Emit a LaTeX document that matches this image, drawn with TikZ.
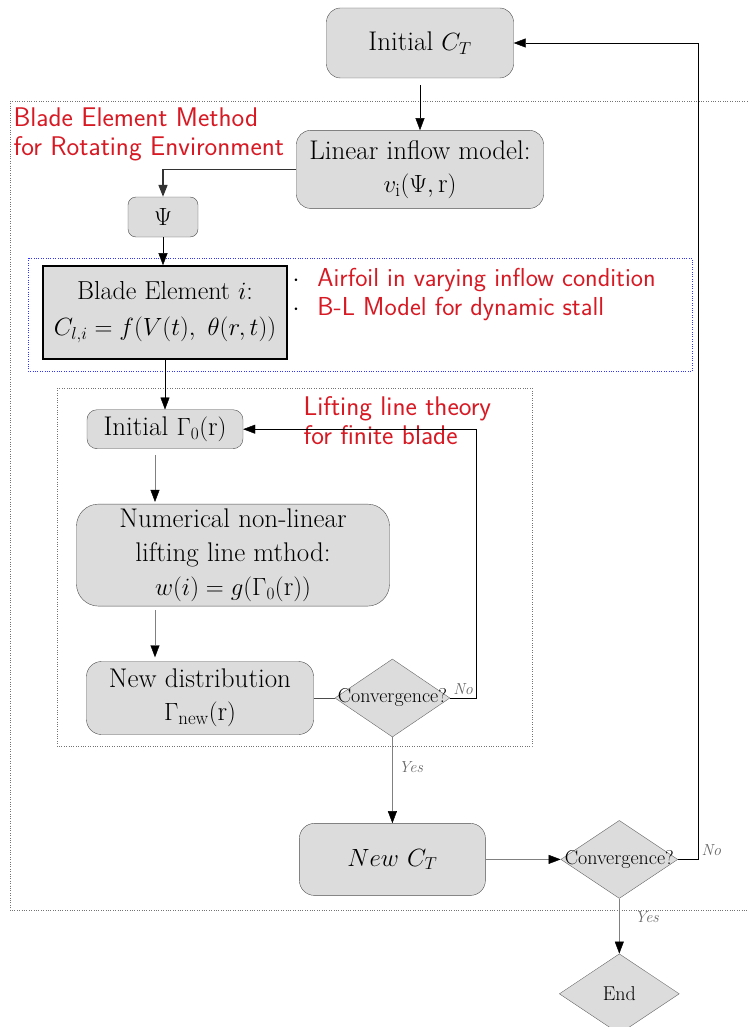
\documentclass[tikz,border=0pt]{standalone}
\usepackage{amsmath}
\usepackage{fontspec}
\usetikzlibrary{arrows.meta,positioning,shapes.geometric}
\definecolor{boxgray}{RGB}{220,220,220}
\definecolor{notered}{RGB}{215,25,35}

\begin{document}
\begin{tikzpicture}[x=1pt, y=-1pt,
  proc/.style={draw=black!70, fill=boxgray, rounded corners=14pt, align=center,
    inner sep=2pt, font=\fontsize{27}{33}\selectfont},
  cond/.style={diamond, draw=black!60, fill=boxgray, inner sep=0pt,
    font=\fontsize{20}{22}\selectfont},
  flow/.style={-{Triangle[length=12pt,width=9pt]}, black},
  flowgray/.style={-{Triangle[length=12pt,width=9pt,color=black]}, black!50},
  note/.style={text=notered, align=left, font=\sffamily\fontsize{27}{29}\selectfont},
  tag/.style={font=\itshape\fontsize{16}{18}\selectfont, text=black!60},
  frame/.style={dotted, black!55, thin}
]
\useasboundingbox (0,0) rectangle (747,1027);

% dotted frames
\draw[frame] (747,101) -- (10,101) -- (10,910) -- (747,910);
\draw[frame, blue!80] (28,258) rectangle (692,371);
\draw[frame] (57,388) rectangle (532,746);

% rotor level
\node[proc, minimum width=187pt, minimum height=70pt] (ct0) at (420,43) {Initial $C_T$};
\node[proc, below=52pt of ct0, minimum width=247pt, minimum height=78pt] (inflow)
  {Linear inflow model:\\ $v_{\mathrm{i}}(\Psi,\mathrm{r})$};
\node[proc, rounded corners=8pt, minimum width=70pt, minimum height=40pt] (psi) at (163,217) {$\Psi$};
\node[proc, rounded corners=0pt, draw=black, line width=1.3pt, below=28pt of psi, xshift=2pt,
  minimum width=244pt, minimum height=93pt, font=\fontsize{26}{36}\selectfont] (blade)
  {Blade Element $i$:\\ $C_{l,i} = f(V(t),\ \theta(r,t))$};

% lifting line loop
\node[proc, rounded corners=10pt, inner sep=0pt, below=50pt of blade,
  minimum width=156pt, minimum height=39pt] (gamma0) {Initial $\Gamma_0(\mathrm{r})$};
\node[proc, rounded corners=22pt, inner sep=0pt, below=55pt of gamma0, xshift=68pt,
  minimum width=313pt, minimum height=102pt, font=\fontsize{27}{34}\selectfont] (numer)
  {Numerical non-linear\\ lifting line mthod:\\ $w(i) = g(\Gamma_0(\mathrm{r}))$};
\node[proc, rounded corners=15pt, below=55pt of numer, xshift=-33pt,
  minimum width=227pt, minimum height=73pt] (newdist)
  {New distribution\\ $\Gamma_{\mathrm{new}}(\mathrm{r})$};
\node[cond, right=21pt of newdist, minimum width=115pt, minimum height=78pt] (conv1)
  {\makebox[0pt]{Convergence?}};

% outer loop
\node[proc, rounded corners=15pt, below=86pt of conv1, minimum width=186pt, minimum height=72pt] (ctnew)
  {$New\ C_T$};
\node[cond, right=75pt of ctnew, minimum width=117pt, minimum height=78pt] (conv2)
  {\makebox[0pt]{Convergence?}};
\node[cond, below=55pt of conv2, minimum width=120pt, minimum height=80pt] (endd)
  {\makebox[0pt]{End}};

% red notes
\node[note, anchor=north west] (bem) at (10,104) {Blade Element Method\\for Rotating Environment};
\node[note, anchor=north west, font=\sffamily\fontsize{26}{29}\selectfont] (bullets) at (289,265)
  {{\color{black}$\cdot$}\hspace{18pt}Airfoil in varying inflow condition\\
   {\color{black}$\cdot$}\hspace{18pt}B-L Model for dynamic stall};
\node[note, anchor=north west] (llt) at (300,393) {Lifting line theory\\for finite blade};

% connectors
\draw[flow, shorten <=7pt] (ct0) -- (inflow);
\draw[flow, draw=black!80, line width=1.6pt] (inflow.west) -| (psi.north);
\draw[flow] (psi.south) -- (psi.south |- blade.north);
\draw[flow] (blade) -- (gamma0);
\draw[flowgray, shorten <=6pt, shorten >=2pt] ([xshift=-10pt]gamma0.south) -- ([xshift=-10pt]gamma0.south |- numer.north);
\draw[flowgray, shorten <=4pt, shorten >=4pt] ([xshift=-45pt]newdist.north |- numer.south) -- ([xshift=-45pt]newdist.north);
\draw[black!70] (newdist) -- (conv1);
\draw[flow] (conv1.east) -- node[tag, above]{No} ++(26,0) |- (gamma0.east);
\draw[flowgray] (conv1.south) -- node[tag, right=3pt, pos=0.35]{Yes} (ctnew.north);
\draw[flowgray] (ctnew) -- (conv2);
\draw[flow] (conv2.east) -- ++(20,0) |- node[tag, pos=0, anchor=south west]{No} (ct0.east);
\draw[flowgray] (conv2) -- node[tag, right=12pt, pos=0.33]{Yes} (endd);
\end{tikzpicture}
\end{document}
